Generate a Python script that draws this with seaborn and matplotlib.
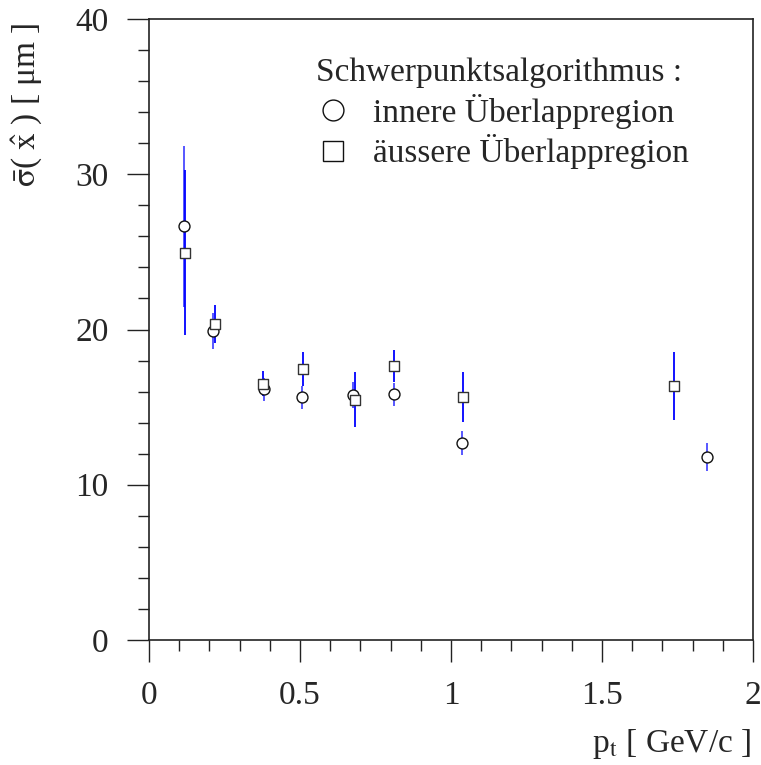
import matplotlib
matplotlib.use("Agg")
import matplotlib.pyplot as plt
from matplotlib.lines import Line2D
from matplotlib.ticker import MultipleLocator
import seaborn as sns
import pandas as pd

# data
x_inner = [0.116, 0.211, 0.380, 0.508, 0.674, 0.811, 1.036, 1.848]
y_inner = [26.65, 19.90, 16.15, 15.65, 15.78, 15.82, 12.69, 11.79]
e_inner = [5.20, 1.17, 0.75, 0.74, 0.86, 0.75, 0.80, 0.88]
x_outer = [0.120, 0.2175, 0.376, 0.511, 0.681, 0.811, 1.041, 1.739]
y_outer = [24.95, 20.35, 16.50, 17.46, 15.48, 17.65, 15.65, 16.38]
e_outer = [5.30, 1.20, 0.80, 1.07, 1.78, 1.03, 1.64, 2.20]

legend_title = "Schwerpunktsalgorithmus :"
label_inner = "innere Überlappregion"
label_outer = "äussere Überlappregion"
x_ticks = [0, 0.5, 1, 1.5, 2]
x_ticklabels = ["0", "0.5", "1", "1.5", "2"]
y_ticks = [0, 10, 20, 30, 40]

sns.set_theme(style="white")
plt.rcParams["font.family"] = ["Liberation Serif", "DejaVu Serif"]
plt.rcParams["mathtext.fontset"] = "stix"
plt.rcParams["font.size"] = 24

df_in = pd.DataFrame({"x": x_inner, "y": y_inner, "e": e_inner})
df_out = pd.DataFrame({"x": x_outer, "y": y_outer, "e": e_outer})

fig = plt.figure(figsize=(7.61, 7.65), dpi=100)
ax = fig.add_axes([149 / 761, 1 - 640 / 765, 604 / 761, 621 / 765])

ax.errorbar(df_in["x"], df_in["y"], yerr=df_in["e"], fmt="none",
            ecolor="#4a4aff", elinewidth=1.3, capsize=0, zorder=2)
ax.errorbar(df_out["x"], df_out["y"], yerr=df_out["e"], fmt="none",
            ecolor="#0000ff", elinewidth=1.3, capsize=0, zorder=2)

sns.scatterplot(data=df_in, x="x", y="y", marker="o", s=62, facecolor="white",
                edgecolor="#111111", linewidth=1.0, ax=ax, zorder=3)
sns.scatterplot(data=df_out, x="x", y="y", marker="s", s=62, facecolor="white",
                edgecolor="#333333", linewidth=1.0, ax=ax, zorder=3)

ax.set_xlim(0, 2)
ax.set_ylim(0, 40)
ax.set_xticks(x_ticks)
ax.set_xticklabels(x_ticklabels)
ax.set_yticks(y_ticks)
ax.xaxis.set_minor_locator(MultipleLocator(0.1))
ax.yaxis.set_minor_locator(MultipleLocator(2))
ax.tick_params(axis="both", which="both", bottom=True, left=True,
               top=False, right=False)
ax.tick_params(axis="both", which="major", direction="out", length=16,
               width=1.0, color="#222222", labelsize=24, pad=13)
ax.tick_params(axis="both", which="minor", direction="out", length=8,
               width=1.0, color="#222222")
for s in ax.spines.values():
    s.set_visible(True)
    s.set_color("#222222")
    s.set_linewidth(1.2)

ax.set_xlabel(r"p$_\mathrm{t}$ [ GeV/c ]", fontsize=24)
ax.xaxis.set_label_coords(0.997, -0.180)
ax.xaxis.label.set_horizontalalignment("right")
ax.xaxis.label.set_verticalalignment("baseline")
ax.set_ylabel(r"$\bar{\mathrm{\sigma}}$( $\hat{\mathrm{x}}$ ) [ μm ]", fontsize=24)
ax.yaxis.set_label_coords(-0.172, 0.994)
ax.yaxis.label.set_verticalalignment("bottom")
ax.yaxis.label.set_horizontalalignment("right")

handles = [
    Line2D([], [], linestyle="none", marker="o", markersize=15,
           markerfacecolor="white", markeredgecolor="#111111", markeredgewidth=1.0),
    Line2D([], [], linestyle="none", marker="s", markersize=15,
           markerfacecolor="white", markeredgecolor="#111111", markeredgewidth=1.0),
]
leg = ax.legend(handles, [label_inner, label_outer], title=legend_title,
                loc="upper left", bbox_to_anchor=(0.2715, 0.9433), frameon=False,
                fontsize=24, title_fontsize=24, borderpad=0.1, borderaxespad=0,
                handletextpad=0.7, labelspacing=0.17, handlelength=1.0)
leg._legend_box.align = "left"

fig.savefig("out.png", dpi=100)
